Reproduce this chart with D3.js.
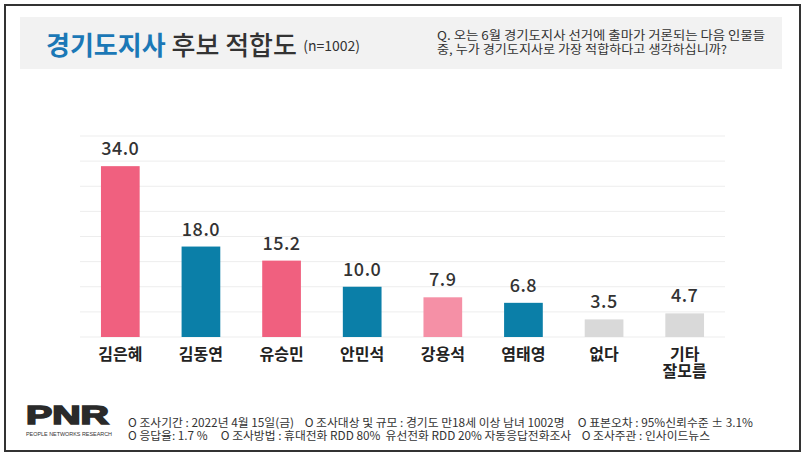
<!DOCTYPE html>
<html><head><meta charset="utf-8">
<script src="https://cdn.jsdelivr.net/npm/d3@7"></script>
<style>
body{margin:0;background:#fff;}
svg{display:block;}
text{font-family:"Noto Sans CJK KR","Noto Sans",sans-serif;white-space:pre;}
</style></head>
<body>
<svg id="c" width="807" height="458"></svg>
<script>
const categories = ["김은혜","김동연","유승민","안민석","강용석","염태영","없다","기타\n잘모름"];
const values = [34.0,18.0,15.2,10.0,7.9,6.8,3.5,4.7];
const barColors = ["#F0607F","#0B7FA8","#F0607F","#0B7FA8","#F590A6","#0B7FA8","#D9D9D9","#D9D9D9"];
const gridTicks = [0,5,10,15,20,25,30,35,40];
const titleParts = ["경기도지사"," 후보 적합도","  (n=1002)"];
const questionLines = ["Q. 오는 6월 경기도지사 선거에 출마가 거론되는 다음 인물들","중, 누가 경기도지사로 가장 적합하다고 생각하십니까?"];
const footerLines = ["O 조사기간 : 2022년 4월 15일(금)    O 조사대상 및 규모 : 경기도 만18세 이상 남녀 1002명     O 표본오차 : 95%신뢰수준 ± 3.1%",
                     "O 응답율: 1.7 %     O 조사방법 : 휴대전화 RDD 80%  유선전화 RDD 20% 자동응답전화조사    O 조사주관 : 인사이드뉴스"];

const svg = d3.select("#c");
// outer frame
svg.append("rect").attr("x",5).attr("y",5).attr("width",795).attr("height",446)
  .attr("fill","#fff").attr("stroke","#333").attr("stroke-width",2);
// title box
svg.append("rect").attr("x",20).attr("y",17).attr("width",762).attr("height",52).attr("fill","#F2F2F2");
const t = svg.append("text").attr("x",46).attr("y",55);
t.append("tspan").text(titleParts[0]).attr("fill","#1B78B6").attr("font-size",26).attr("font-weight",700);
t.append("tspan").text(titleParts[1]).attr("fill","#333").attr("font-size",26).attr("font-weight",500);
t.append("tspan").text(titleParts[2]).attr("fill","#333").attr("font-size",14).attr("font-weight",400).attr("dy",-4);
questionLines.forEach((l,i)=>{
  svg.append("text").attr("x",437).attr("y",40+i*14).attr("font-size",12).attr("fill","#333")
    .attr("textLength",i===0?328:290).attr("lengthAdjust","spacingAndGlyphs").text(l);
});

const x = d3.scaleBand().domain(categories).range([80,725]).paddingInner(0.52).paddingOuter(0.26);
const y = d3.scaleLinear().domain([0,40]).range([337,136]);

svg.append("g").selectAll("line").data(gridTicks).join("line")
  .attr("x1",80).attr("x2",725).attr("y1",d=>y(d)).attr("y2",d=>y(d))
  .attr("stroke","#EDEDED").attr("stroke-width",1);

svg.append("g").selectAll("rect").data(values).join("rect")
  .attr("x",(d,i)=>x(categories[i])).attr("width",x.bandwidth())
  .attr("y",d=>y(d)).attr("height",d=>y(0)-y(d))
  .attr("fill",(d,i)=>barColors[i]);

svg.append("g").selectAll("text").data(values).join("text")
  .attr("x",(d,i)=>x(categories[i])+x.bandwidth()/2).attr("y",d=>y(d)-11)
  .attr("text-anchor","middle").attr("font-size",18).attr("font-weight",500)
  .attr("fill","#333").attr("letter-spacing",0.5).text(d=>d.toFixed(1));

const lab = svg.append("g").selectAll("text").data(categories).join("text")
  .attr("x",d=>x(d)+x.bandwidth()/2).attr("y",360)
  .attr("text-anchor","middle").attr("font-size",16).attr("font-weight",700).attr("fill","#222");
lab.each(function(d){
  const parts = d.split("\n");
  parts.forEach((p,i)=>{
    d3.select(this).append("tspan").attr("x",x(d)+x.bandwidth()/2)
      .attr("dy",i===0?0:17).text(p);
  });
});

// logo
svg.append("text").attr("x",26).attr("y",424)
  .style("font-family","'Liberation Sans', Arial, sans-serif")
  .attr("font-size",26).attr("font-weight",700).attr("fill","#2a2a2a").attr("stroke","#2a2a2a").attr("stroke-width",1.6)
  .attr("textLength",83).attr("lengthAdjust","spacingAndGlyphs").text("PNR");
svg.append("text").attr("x",26).attr("y",436).attr("font-size",5).attr("fill","#333")
  .style("font-family","'Liberation Sans', Arial, sans-serif")
  .attr("textLength",86).attr("lengthAdjust","spacingAndGlyphs").text("PEOPLE NETWORKS RESEARCH");

footerLines.forEach((l,i)=>{
  svg.append("text").attr("x",128).attr("y",427+i*13).attr("font-size",11.5).attr("fill","#333")
    .attr("textLength",i===0?625:582).attr("lengthAdjust","spacingAndGlyphs").text(l);
});
</script>
</body></html>
